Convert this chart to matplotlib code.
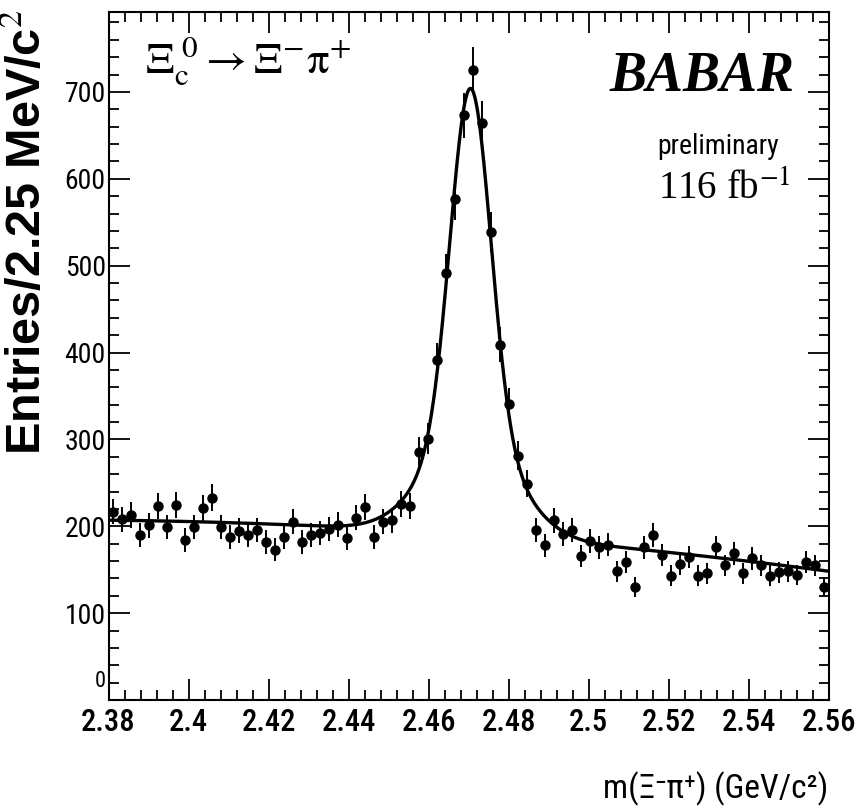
import numpy as np
import matplotlib.pyplot as plt
from matplotlib.ticker import MultipleLocator

# --- Datos del histograma ---
m_min = 2.38
m_max = 2.56
bin_w = 0.00225
entries = [217, 208, 213, 190, 201, 223, 199, 224, 184, 199,
           221, 233, 199, 188, 195, 190, 196, 182, 173, 188,
           205, 182, 190, 192, 197, 202, 186, 210, 222, 188,
           205, 207, 226, 223, 286, 301, 391, 491, 577, 673,
           725, 664, 539, 409, 341, 281, 249, 196, 178, 207,
           191, 196, 166, 183, 176, 179, 148, 159, 130, 176,
           190, 167, 143, 157, 165, 143, 146, 176, 155, 169,
           146, 163, 155, 143, 147, 148, 144, 159, 155, 130]
x_ticklabels = ['2.38', '2.4', '2.42', '2.44', '2.46', '2.48', '2.5',
                '2.52', '2.54', '2.56']
y_ticklabels = ['', '100', '200', '300', '400', '500', '600', '700']

# parametros del ajuste (doble gaussiana + fondo cuadratico)
fit_mean = 2.4705
fit_amp1, fit_sig1 = 400, 0.0050
fit_amp2, fit_sig2 = 114, 0.0110
bg_c0, bg_c1, bg_c2 = 190, -328, -1543

centers = m_min + bin_w * (np.arange(len(entries)) + 0.5)
errors = np.sqrt(entries)

x_fit = np.linspace(m_min, m_max, 1200)
u = x_fit - fit_mean
y_fit = (fit_amp1 * np.exp(-0.5 * (u / fit_sig1) ** 2)
         + fit_amp2 * np.exp(-0.5 * (u / fit_sig2) ** 2)
         + bg_c0 + bg_c1 * u + bg_c2 * u ** 2)

narrow = ['Roboto Condensed', 'Roboto', 'DejaVu Sans']
plt.rcParams['mathtext.fontset'] = 'stix'

fig = plt.figure(figsize=(8.56, 8.09), dpi=100)
ax = fig.add_axes([0.1268, 0.1347, 0.8411, 0.8505])

ax.plot(x_fit, y_fit, color='black', lw=2.4, zorder=2)
ax.errorbar(centers, entries, yerr=errors, fmt='o', color='black',
            ms=6.5, elinewidth=1.4, capsize=0, zorder=3)

ax.set_xlim(m_min, m_max)
ax.set_ylim(0, 792)

ax.set_xticks(np.arange(len(x_ticklabels)) * 0.02 + m_min)
ax.set_xticklabels(x_ticklabels)
ax.set_yticks(np.arange(len(y_ticklabels)) * 100)
ax.set_yticklabels(y_ticklabels)
ax.xaxis.set_minor_locator(MultipleLocator(0.004))
ax.yaxis.set_minor_locator(MultipleLocator(20))
ax.tick_params(which='both', direction='in', top=True, right=True, width=1.3)
ax.tick_params(which='major', length=15)
ax.tick_params(which='minor', length=7.5)
ax.tick_params(axis='x', pad=6)
ax.tick_params(axis='y', pad=2)
for s in ax.spines.values():
    s.set_linewidth(1.5)

for t in ax.get_xticklabels():
    t.set_family(narrow)
    t.set_fontsize(22)
    t.set_fontweight('medium')
for t in ax.get_yticklabels():
    t.set_family(narrow)
    t.set_fontsize(20)
# el "0" del eje y va un poco mas arriba, como en el original
ax.text(-0.004, 0.012, '0', transform=ax.transAxes, fontsize=16,
        family=narrow, ha='right', va='bottom')

# etiquetas de los ejes
fig.text(0.033, 0.4376, 'Entries/2.25 MeV/c$^{2}$', rotation=90,
         fontsize=35, fontweight='bold', family='Liberation Sans',
         ha='center', va='bottom')
fig.text(0.967, 0.004, 'm(Ξ⁻π⁺) (GeV/c²)', fontsize=24,
         family=narrow, ha='right', va='bottom')

# textos dentro del grafico
ax.text(0.050, 0.968, r'$\mathrm{\Xi_{c}^{\ 0} \rightarrow \Xi^{-}\pi^{+}}$',
        transform=ax.transAxes, fontsize=32, ha='left', va='top')
ax.text(0.953, 0.905, 'BABAR', transform=ax.transAxes, fontsize=40,
        family='Liberation Serif', fontweight='bold', style='italic',
        ha='right', va='center')
ax.text(0.846, 0.804, 'preliminary', transform=ax.transAxes, fontsize=20,
        family=narrow, ha='center', va='center')
ax.text(0.9465, 0.741, '116 fb$^{-1}$', transform=ax.transAxes, fontsize=28,
        family='Liberation Serif', ha='right', va='center')

plt.savefig('out.png', dpi=100)
